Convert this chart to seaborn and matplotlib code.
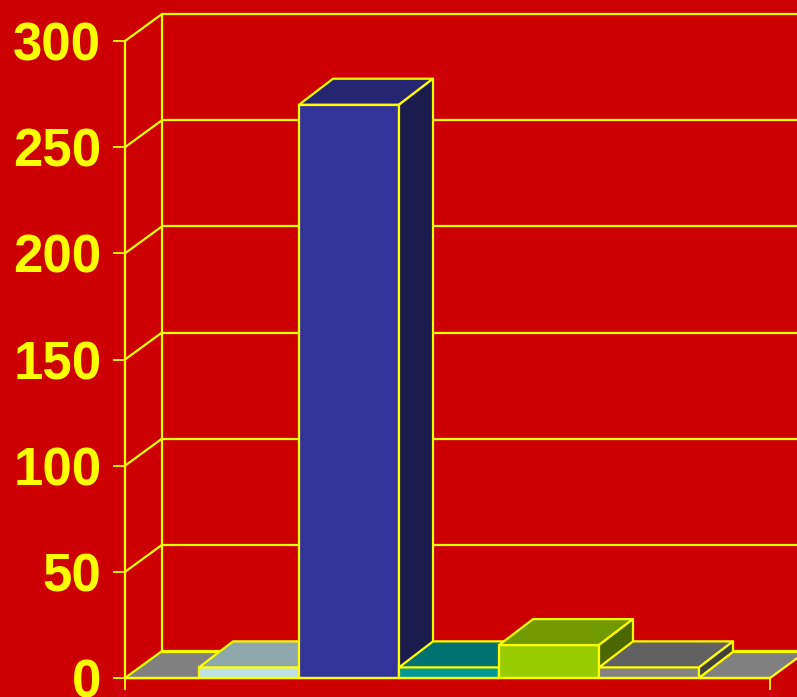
import numpy as np
import pandas as pd
import matplotlib
matplotlib.use("Agg")
import matplotlib.pyplot as plt
import seaborn as sns
from matplotlib.patches import Polygon
from matplotlib.lines import Line2D
from matplotlib.transforms import IdentityTransform

# ---- data ----
categories = ["A", "B", "C", "D", "E", "F", "G"]
values = [0, 5, 270, 5, 15.5, 5, 0]
front_colors = ["#A6A6A6", "#BDE1E7", "#333399", "#009999", "#99CC00", "#828282", "#A6A6A6"]
top_colors = ["#808080", "#8FA8AB", "#262670", "#007272", "#739900", "#616161", "#808080"]
side_colors = ["#555555", "#5F7073", "#1C1B4E", "#004C4C", "#4C6600", "#404040", "#555555"]
ytick_values = [0, 50, 100, 150, 200, 250, 300]
ytick_labels = ["0", "50", "100", "150", "200", "250", "300"]

sns.set_style("white")
plt.rcParams["font.family"] = ["Liberation Sans", "DejaVu Sans"]

W, H = 797, 697
BG = "#CC0000"
YEL = "#FFFF00"
LW = 1.6
XMIN, XMAX = -0.24, 6.21
BAR_D = np.array([34.0, 26.0])    # bar depth offset (display px)
WALL_D = np.array([37.0, 27.0])   # wall depth offset (display px)

fig = plt.figure(figsize=(W / 100, H / 100), dpi=100, facecolor=BG)
ax = fig.add_axes([125 / W, (H - 678) / H, 645 / W, 637 / H])
ax.set_facecolor("none")

df = pd.DataFrame({"cat": categories, "val": values})
sns.barplot(data=df, x="cat", y="val", hue="cat", palette=front_colors,
            saturation=1, width=1.0, errorbar=None, legend=False,
            edgecolor=YEL, linewidth=LW, ax=ax)
ax.set_xlim(XMIN, XMAX)
ax.set_ylim(0, 300)

T = ax.transData.transform
ident = IdentityTransform()

# clip region (inside the side walls) in display coords
p_l0 = T((XMIN, 0)); p_r0 = T((XMAX, 0))
clip_pts = [
    (p_l0[0], -100), tuple(p_l0), tuple(p_l0 + WALL_D), (p_l0[0] + WALL_D[0], H + 100),
    (p_r0[0] + WALL_D[0], H + 100), tuple(p_r0 + WALL_D), tuple(p_r0), (p_r0[0], -100),
]
clip_patch = Polygon(clip_pts, closed=True, transform=ident)

# ---- walls & gridlines ----
for v in ytick_values:
    p = T((XMIN, v))
    q = p + WALL_D
    z = 50 if v == 0 else 1
    ax.add_artist(Line2D([p[0], q[0]], [p[1], q[1]], color=YEL, lw=LW,
                         transform=ident, clip_on=False, zorder=z))
    ax.add_artist(Line2D([q[0], W + 20], [q[1], q[1]], color=YEL, lw=LW,
                         transform=ident, clip_on=False, zorder=1))
b0 = T((XMIN, 0)) + WALL_D
b1 = T((XMIN, 300)) + WALL_D
ax.add_artist(Line2D([b0[0], b1[0]], [b0[1], b1[1]], color=YEL, lw=LW,
                     transform=ident, clip_on=False, zorder=1))
r1 = p_r0 + WALL_D
ax.add_artist(Line2D([p_r0[0], r1[0]], [p_r0[1], r1[1]], color=YEL, lw=LW,
                     transform=ident, clip_on=False, zorder=50))

# ---- 3D bars ----
patches = sorted(ax.patches, key=lambda p: p.get_x())
for i, patch in enumerate(patches):
    x0, w, h = patch.get_x(), patch.get_width(), patch.get_height()
    patch.set_zorder(10 + 3 * i)
    patch.set_clip_box(None)
    patch.set_clip_path(clip_patch)
    fr = T((x0 + w, 0)); tl = T((x0, h)); tr = T((x0 + w, h))
    top = Polygon([tl, tr, tr + BAR_D, tl + BAR_D], closed=True, transform=ident,
                  facecolor=top_colors[i], edgecolor=YEL, lw=LW, zorder=11 + 3 * i,
                  joinstyle="round")
    side = Polygon([fr, tr, tr + BAR_D, fr + BAR_D], closed=True, transform=ident,
                   facecolor=side_colors[i], edgecolor=YEL, lw=LW, zorder=12 + 3 * i,
                   joinstyle="round")
    for poly in (side, top):
        poly.set_clip_box(None)
        poly.set_clip_path(clip_patch)
        ax.add_artist(poly)

# ---- axes styling ----
ax.set_yticks(ytick_values, ytick_labels)
ax.set_xticks([XMIN, XMAX], ["", ""])
ax.set_xlabel("")
ax.set_ylabel("")
ax.tick_params(axis="y", colors=YEL, length=8.6, width=1.3, pad=8.5, direction="out",
               left=True, labelsize=38)
ax.tick_params(axis="x", colors=YEL, length=8.6, width=1.3, direction="out", bottom=True)
for lab in ax.get_yticklabels():
    lab.set_fontweight("bold")
    lab.set_color(YEL)
for s in ["top", "right"]:
    ax.spines[s].set_visible(False)
for s in ["left", "bottom"]:
    ax.spines[s].set_color(YEL)
    ax.spines[s].set_linewidth(LW)
    ax.spines[s].set_zorder(49)

fig.savefig("out.png", dpi=100, facecolor=BG)
